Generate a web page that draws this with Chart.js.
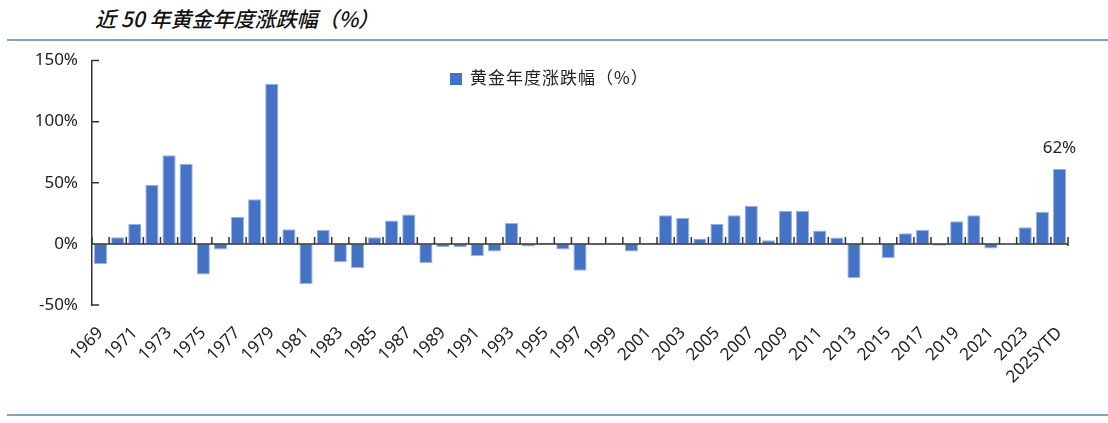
<!DOCTYPE html>
<html>
<head>
<meta charset="utf-8">
<script src="https://cdn.jsdelivr.net/npm/chart.js@4"></script>
<style>
  body { margin: 0; background: #fff; }
  #wrap { position: relative; width: 1108px; height: 423px; overflow: hidden; }
  #title { position: absolute; left: 95px; top: 5px; font: italic 500 21px "Noto Sans CJK SC", sans-serif; line-height: 27px; color: #111; }
  .rule { position: absolute; left: 7px; right: 0; height: 2px; background: #7ea6be; }
  #legend { position: absolute; left: 450px; top: 65px; font: 17px "Noto Sans CJK SC", sans-serif; line-height: 24px; color: #222; letter-spacing: 1px; }
  #legend span.box { display: inline-block; width: 12px; height: 12px; background: #4472c4; margin-right: 8px; vertical-align: -1px; }
  canvas { position: absolute; left: 0; top: 0; }
</style>
</head>
<body>
<div id="wrap">
  <div id="title">近 50 年黄金年度涨跌幅（%）</div>
  <div class="rule" style="top:39px"></div>
  <div class="rule" style="top:414px"></div>
  <canvas id="goldChart" width="1108" height="423"></canvas>
  <div id="legend"><span class="box"></span>黄金年度涨跌幅（%）</div>
</div>
<script>
// 年份
const years = ["1969", "1970", "1971", "1972", "1973", "1974", "1975", "1976", "1977", "1978",
  "1979", "1980", "1981", "1982", "1983", "1984", "1985", "1986", "1987", "1988",
  "1989", "1990", "1991", "1992", "1993", "1994", "1995", "1996", "1997", "1998",
  "1999", "2000", "2001", "2002", "2003", "2004", "2005", "2006", "2007", "2008",
  "2009", "2010", "2011", "2012", "2013", "2014", "2015", "2016", "2017", "2018",
  "2019", "2020", "2021", "2022", "2023", "2024", "2025YTD"];

// 黄金年度涨跌幅（%）
const goldChange = [-16.4, 5.5, 16.4, 48.4, 72.4, 65.6, -25.1, -4.6, 22.1, 36.6,
  131, 12, -32.8, 11.5, -15, -19.7, 5.5, 19.1, 24, -15.6,
  -2.7, -2.7, -10, -6.3, 17, -2.2, 1, -4.6, -21.9, -0.8,
  0.5, -6.3, 1, 23.5, 21.3, 4.4, 16.4, 23.5, 31.1, 3,
  27, 27, 10.9, 5.2, -27.9, -0.5, -11.5, 8.7, 11.5, -1.6,
  18.6, 23.5, -3.8, -0.3, 13.7, 26.2, 61.5];

// y 轴刻度
const yTicks = [-50, 0, 50, 100, 150];

const lastLabel = "62%";

// 零轴线、刻度线和最后一根柱子的标签
const axisMarks = {
    id: 'axisMarks',
    afterDatasetsDraw(chart) {
        const ctx = chart.ctx;
        const y = chart.scales.y;
        const area = chart.chartArea;
        const zeroY = y.getPixelForValue(0);
        ctx.save();
        ctx.strokeStyle = '#333';
        ctx.lineWidth = 1.5;
        ctx.beginPath();
        ctx.moveTo(area.left, zeroY);
        ctx.lineTo(area.right, zeroY);
        // x 轴刻度：类别分界处，向上
        let step = (area.right - area.left) / years.length;
        for (let i = 0; i <= years.length; i++) {
            let px = area.left + step * i;
            ctx.moveTo(px, zeroY);
            ctx.lineTo(px, zeroY - 7);
        }
        ctx.moveTo(area.right, zeroY);
        ctx.lineTo(area.right, zeroY + 2);
        // y 轴刻度：向内
        yTicks.forEach(function (v) {
            let py = y.getPixelForValue(v);
            ctx.moveTo(area.left, py);
            ctx.lineTo(area.left + 7, py);
        });
        ctx.stroke();

        // 2025YTD 标签
        let bar = chart.getDatasetMeta(0).data[goldChange.length - 1];
        ctx.fillStyle = '#222';
        ctx.font = '17px "Noto Sans", sans-serif';
        ctx.textAlign = 'center';
        ctx.textBaseline = 'middle';
        ctx.fillText(lastLabel, bar.x, bar.y - 21);
        ctx.restore();
    }
};

let ctx = document.getElementById('goldChart').getContext('2d');
let chart = new Chart(ctx, {
    type: 'bar',
    data: {
        labels: years,
        datasets: [{
            label: '黄金年度涨跌幅（%）',
            data: goldChange,
            backgroundColor: '#4472c4',
            borderColor: '#9bb5e0',
            borderWidth: 1,
            borderSkipped: false,
            categoryPercentage: 1,
            barPercentage: 0.77
        }]
    },
    options: {
        responsive: false,
        animation: false,
        layout: { padding: { top: 60.5, right: 40, bottom: 0, left: 0 } },
        plugins: {
            legend: { display: false },
            tooltip: { enabled: false }
        },
        scales: {
            x: {
                grid: { display: false, drawTicks: false },
                border: { display: false },
                ticks: {
                    autoSkip: false,
                    minRotation: 45,
                    maxRotation: 45,
                    padding: 18,
                    color: '#222',
                    font: { family: 'Noto Sans', size: 17 },
                    callback: function (val, index) {
                        return index % 2 === 0 ? years[index] : '';
                    }
                },
                afterFit: function (scale) { scale.height = 118; }
            },
            y: {
                min: -50,
                max: 150,
                grid: { display: false, drawTicks: false },
                border: { display: true, color: '#333', width: 1.5 },
                ticks: {
                    stepSize: 50,
                    padding: 14,
                    color: '#222',
                    font: { family: 'Noto Sans', size: 17 },
                    callback: function (v) { return v + '%'; }
                },
                afterFit: function (scale) { scale.width = 92; }
            }
        }
    },
    plugins: [axisMarks]
});
</script>
</body>
</html>
